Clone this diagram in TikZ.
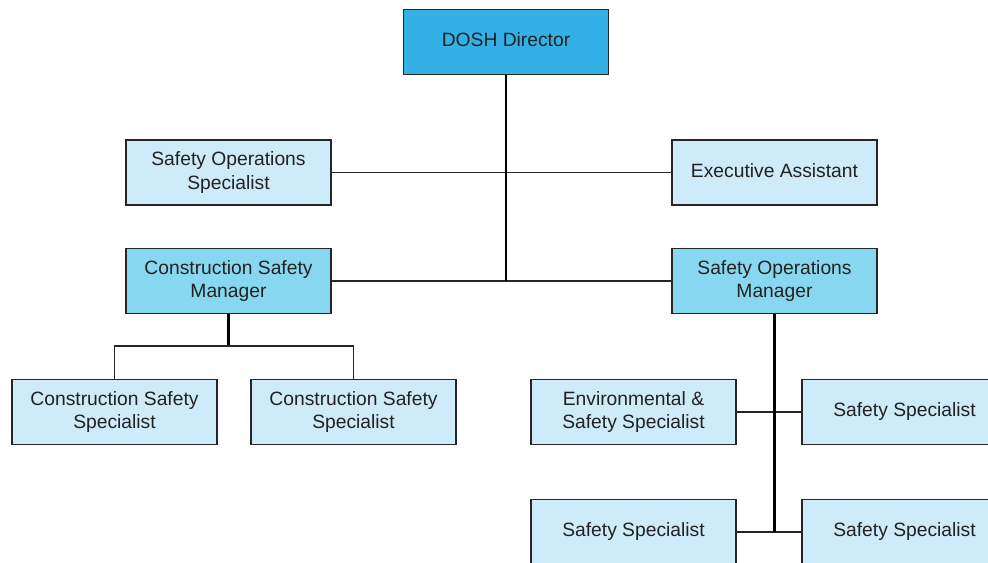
\documentclass[tikz,border=0pt]{standalone}
\usepackage{fontspec}
\setmainfont{Liberation Sans}
\definecolor{directorblue}{RGB}{51,176,230}
\definecolor{managerblue}{RGB}{135,215,241}
\definecolor{staffblue}{RGB}{205,235,248}
\definecolor{boxtext}{RGB}{34,34,34}
\begin{document}
\begin{tikzpicture}[x=0.025cm, y=-0.025cm,
    box/.style={draw=black!85, line width=0.9pt, minimum width=5.125cm, minimum height=1.625cm,
        inner sep=0pt, align=center, text=boxtext, font=\fontsize{13.7}{17}\selectfont},
    oneline/.style={text depth=2.9pt},
    director/.style={box, oneline, fill=directorblue},
    manager/.style={box, fill=managerblue},
    staff/.style={box, fill=staffblue},
    link/.style={draw=black!85, line width=1pt},
    trunk/.style={draw=black, line width=1.5pt}]
    \useasboundingbox (0,0) rectangle (988,563);
    % top of the chart
    \node[director] (dir) at (506,42) {DOSH Director};
    \node[staff] (sos) at (228.5,172.5) {Safety Operations\\Specialist};
    \node[staff, oneline] (ea) at (774.5,172.5) {Executive Assistant};
    \node[manager] (csm) at (228.5,281) {Construction Safety\\Manager};
    \node[manager] (som) at (774.5,281) {Safety Operations\\Manager};
    % construction branch
    \node[staff] (css1) at (114.5,412) {Construction Safety\\Specialist};
    \node[staff] (css2) at (353.5,412) {Construction Safety\\Specialist};
    % operations branch
    \node[staff] (ess) at (633.5,412) {Environmental \&\\Safety Specialist};
    \node[staff, oneline] (ss1) at (904.5,412) {Safety Specialist};
    \node[staff, oneline] (ss2) at (633.5,532) {Safety Specialist};
    \node[staff, oneline] (ss3) at (904.5,532) {Safety Specialist};
    \coordinate (csfork) at (228.5,346);
    \draw[link] (sos.east) -- (ea.west);
    \draw[link] (csm.east) -- (som.west);
    \draw[trunk] (dir.south) -- (dir.south |- csm.east);
    \draw[trunk] (csm.south) -- (csfork);
    \draw[link] (css1.north) |- (csfork) -| (css2.north);
    \draw[link] (ess.east) -- (ss1.west);
    \draw[link] (ss2.east) -- (ss3.west);
    \draw[trunk] (som.south) -- (som.south |- ss2.east);
\end{tikzpicture}
\end{document}
